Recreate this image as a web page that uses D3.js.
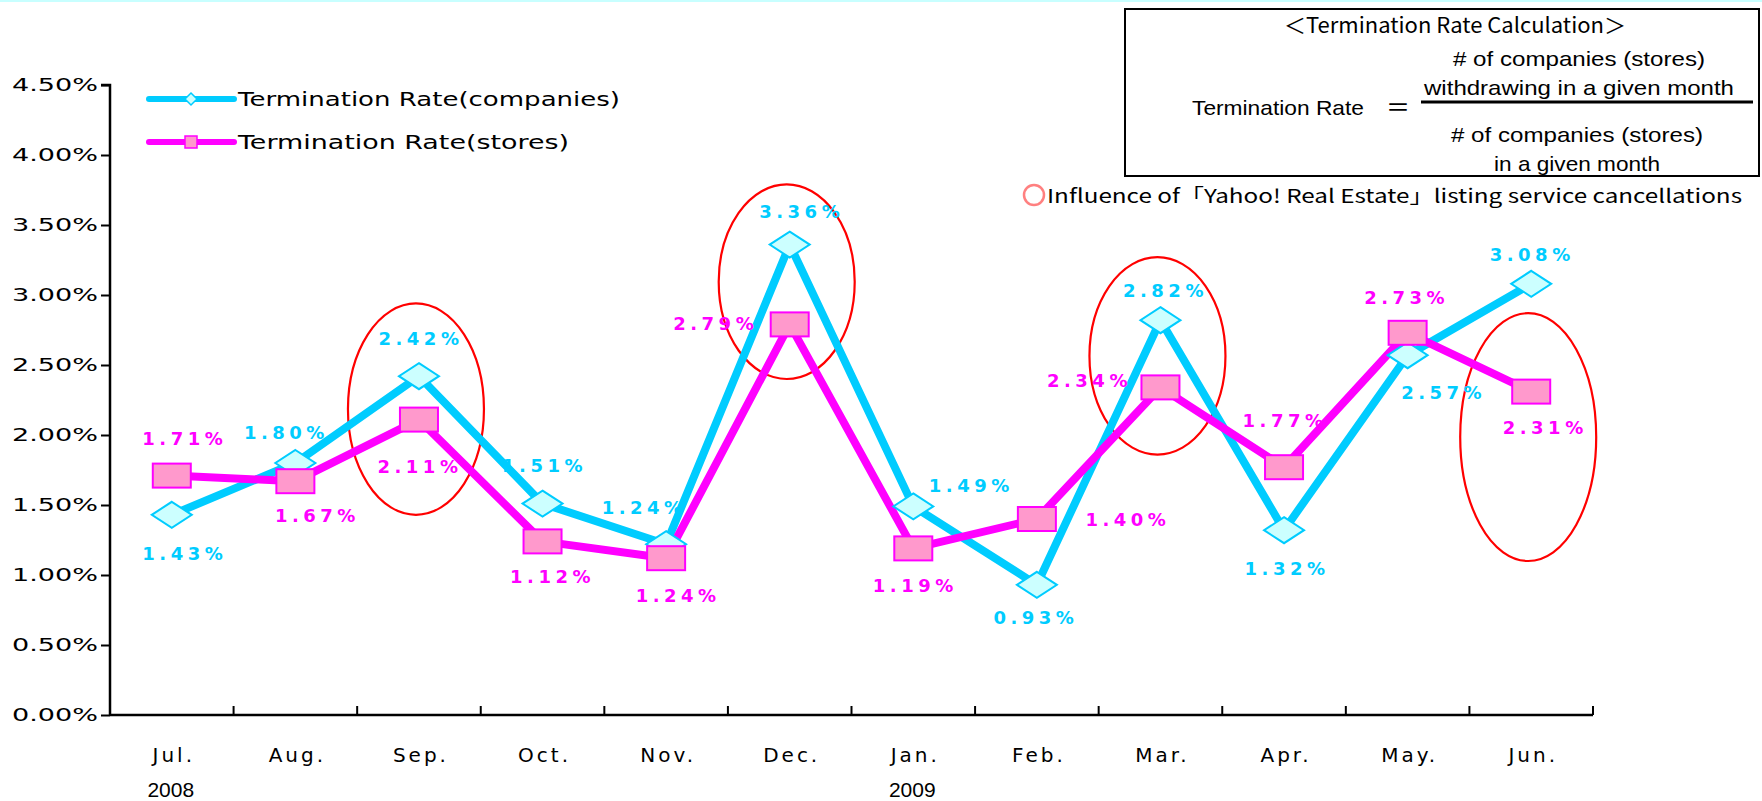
<!DOCTYPE html>
<html><head><meta charset="utf-8">
<script src="https://cdn.jsdelivr.net/npm/d3@7"></script>
<style>
html,body{margin:0;padding:0;background:#fff;}
svg{display:block;}
</style></head>
<body>
<svg id="c" width="1762" height="801"></svg>
<script>
const months = ["Jul.","Aug.","Sep.","Oct.","Nov.","Dec.","Jan.","Feb.","Mar.","Apr.","May.","Jun."];
const companies = [1.43,1.80,2.42,1.51,1.22,3.36,1.49,0.93,2.82,1.32,2.57,3.08];
const stores = [1.71,1.67,2.11,1.24,1.12,2.79,1.19,1.40,2.34,1.77,2.73,2.31];
const companyLabels = ["1.43%","1.80%","2.42%","1.51%","1.24%","3.36%","1.49%","0.93%","2.82%","1.32%","2.57%","3.08%"];
const storeLabels = ["1.71%","1.67%","2.11%","1.12%","1.24%","2.79%","1.19%","1.40%","2.34%","1.77%","2.73%","2.31%"];
const yTicks = [0,0.5,1,1.5,2,2.5,3,3.5,4,4.5];
const years = [{label:"2008", month:0},{label:"2009", month:6}];
// highlighted months (Yahoo! Real Estate influence): month index, value span
const highlights = [{m:2, top:2.94, bottom:1.43},{m:5, top:3.79, bottom:2.40},{m:8, top:3.27, bottom:1.86},{m:11, top:2.87, bottom:1.10}];

// layout (label offsets in px)
const compOff = [[11,39],[-11,-30],[0,-38],[0,-38],[-24,-37],[10,-33],[56,-21],[-3,33],[3,-30],[1,38],[34,37],[-1,-29]];
const storeOff = [[11,-37],[20,34],[-1,47],[8,35],[10,37],[-76,-1],[0,37],[89,1],[-73,-7],[-1,-47],[-3,-35],[12,36]];

const CYAN = "#00ccff", CYAN_FILL = "#ccffff", MAG = "#ff00ff", MAG_FILL = "#ff99cc";
const svg = d3.select("#c");
const L = 110, R = 1593, T = 85, B = 715;

svg.append("rect").attr("x",0).attr("y",0).attr("width",1762).attr("height",2).attr("fill","#c8ffff");

const x = d3.scaleBand().domain(months).range([L,R]).paddingInner(0).paddingOuter(0);
const y = d3.scaleLinear().domain([0,4.5]).range([B,T]);

const tickFont = "'DejaVu Sans', sans-serif";

// Y axis
const yAxis = d3.axisLeft(y).tickValues(yTicks).tickSize(9).tickFormat(d => d.toFixed(2)+"%");
const gy = svg.append("g").attr("transform",`translate(${L},0)`).call(yAxis);
gy.select(".domain").attr("stroke","#000").attr("stroke-width",2.5).attr("d",`M-9,${T}H0V${B}`);
gy.selectAll(".tick line").attr("stroke","#000").attr("stroke-width",2);
gy.selectAll(".tick text").attr("x",-12).attr("font-family",tickFont).attr("font-size",18)
  .attr("textLength",86).attr("lengthAdjust","spacingAndGlyphs").attr("fill","#000");

// X axis
const gx = svg.append("g").attr("transform",`translate(0,${B})`);
gx.append("line").attr("x1",L).attr("x2",R).attr("y1",0).attr("y2",0).attr("stroke","#000").attr("stroke-width",2.5);
gx.selectAll("line.tk").data(months).enter().append("line").attr("class","tk")
  .attr("x1",d=>x(d)+x.bandwidth()).attr("x2",d=>x(d)+x.bandwidth()).attr("y1",0).attr("y2",-9)
  .attr("stroke","#000").attr("stroke-width",2);
gx.selectAll("text.m").data(months).enter().append("text").attr("class","m")
  .attr("x",d=>x(d)+x.bandwidth()/2+2).attr("y",47).attr("text-anchor","middle")
  .attr("font-family",tickFont).attr("font-size",20).attr("letter-spacing","3px").text(d=>d);
svg.selectAll("text.yr").data(years).enter().append("text").attr("class","yr")
  .attr("x",d=>x(months[d.month])+x.bandwidth()/2 - 1).attr("y",797).attr("text-anchor","middle")
  .attr("font-family","'Liberation Sans Narrow','Liberation Sans',sans-serif").attr("font-size",21).text(d=>d.label);

// highlight ellipses (behind lines)
svg.selectAll("ellipse.hl").data(highlights).enter().append("ellipse").attr("class","hl")
  .attr("cx",d=>x(months[d.m])+x.bandwidth()/2 - 3)
  .attr("cy",d=>(y(d.top)+y(d.bottom))/2)
  .attr("rx",68).attr("ry",d=>(y(d.bottom)-y(d.top))/2)
  .attr("fill","none").attr("stroke","#ff0000").attr("stroke-width",2.2);

const cx = i => x(months[i]) + x.bandwidth()/2;
const line = d3.line().x((d,i)=>cx(i)).y(d=>y(d));

svg.append("path").datum(companies).attr("d",line).attr("fill","none").attr("stroke",CYAN).attr("stroke-width",8).attr("stroke-linejoin","round");
svg.append("path").datum(stores).attr("d",line).attr("fill","none").attr("stroke",MAG).attr("stroke-width",8).attr("stroke-linejoin","round");

const diamond = (w,h) => `M0,${-h/2}L${w/2},0L0,${h/2}L${-w/2},0Z`;
svg.selectAll("path.dia").data(companies).enter().append("path").attr("class","dia")
  .attr("transform",(d,i)=>`translate(${cx(i)},${y(d)})`).attr("d",diamond(40,26))
  .attr("fill",CYAN_FILL).attr("stroke",CYAN).attr("stroke-width",2);
svg.selectAll("rect.sq").data(stores).enter().append("rect").attr("class","sq")
  .attr("x",(d,i)=>cx(i)-19).attr("y",d=>y(d)-12).attr("width",38).attr("height",24)
  .attr("fill",MAG_FILL).attr("stroke",MAG).attr("stroke-width",2);

const lblFont = "'DejaVu Sans', sans-serif";
svg.selectAll("text.cl").data(companies).enter().append("text").attr("class","cl")
  .attr("x",(d,i)=>cx(i)+compOff[i][0]+2).attr("y",(d,i)=>y(d)+compOff[i][1]).attr("dy","0.36em")
  .attr("text-anchor","middle").attr("font-family",lblFont).attr("font-weight","bold").attr("font-size",18)
  .attr("letter-spacing","4.5px").attr("fill",CYAN).text((d,i)=>companyLabels[i]);
svg.selectAll("text.sl").data(stores).enter().append("text").attr("class","sl")
  .attr("x",(d,i)=>cx(i)+storeOff[i][0]+2).attr("y",(d,i)=>y(d)+storeOff[i][1]).attr("dy","0.36em")
  .attr("text-anchor","middle").attr("font-family",lblFont).attr("font-weight","bold").attr("font-size",18)
  .attr("letter-spacing","4.5px").attr("fill",MAG).text((d,i)=>storeLabels[i]);

// legend
const legend = [{name:"Termination Rate(companies)", c:CYAN, f:CYAN_FILL, shape:"d", y:99, len:382},
                {name:"Termination Rate(stores)", c:MAG, f:MAG_FILL, shape:"s", y:142, len:331}];
const lg = svg.selectAll("g.lg").data(legend).enter().append("g").attr("class","lg");
lg.append("line").attr("x1",149).attr("x2",234).attr("y1",d=>d.y).attr("y2",d=>d.y).attr("stroke",d=>d.c).attr("stroke-width",6).attr("stroke-linecap","round");
lg.each(function(d){
  const g = d3.select(this);
  if(d.shape==="d") g.append("path").attr("transform",`translate(191,${d.y})`).attr("d",diamond(12,12)).attr("fill",d.f).attr("stroke",d.c).attr("stroke-width",1.5);
  else g.append("rect").attr("x",185).attr("y",d.y-6).attr("width",12).attr("height",12).attr("fill",d.f).attr("stroke",d.c).attr("stroke-width",1.5);
});
lg.append("text").attr("x",238).attr("y",d=>d.y).attr("dy","0.36em").attr("font-family",tickFont).attr("font-size",19)
  .attr("textLength",d=>d.len).attr("lengthAdjust","spacingAndGlyphs").text(d=>d.name);

// formula box
const narrow = "'Liberation Sans Narrow','Liberation Sans','Noto Sans CJK JP',sans-serif";
svg.append("rect").attr("x",1125).attr("y",9).attr("width",634).attr("height",167).attr("fill","#fff").attr("stroke","#000").attr("stroke-width",2);
const boxTexts = [
  {t:"＜Termination Rate Calculation＞", x:1455, y:25, len:342, fs:21},
  {t:"# of companies (stores)", x:1579, y:58, len:252, fs:21},
  {t:"withdrawing in a given month", x:1579, y:87, len:310, fs:21},
  {t:"Termination Rate", x:1278, y:107, len:172, fs:21},
  {t:"＝", x:1398, y:107, len:null, fs:24},
  {t:"# of companies (stores)", x:1577, y:134, len:252, fs:21},
  {t:"in a given month", x:1577, y:163, len:166, fs:21}
];
svg.selectAll("text.bx").data(boxTexts).enter().append("text").attr("class","bx")
  .attr("x",d=>d.x).attr("y",d=>d.y).attr("dy","0.36em").attr("text-anchor","middle")
  .attr("font-family",d=>d.t==="＝"||d.t.startsWith("＜")?"'Noto Sans CJK JP',sans-serif":narrow).attr("font-size",d=>d.fs)
  .each(function(d){ if(d.len) d3.select(this).attr("textLength",d.len).attr("lengthAdjust","spacingAndGlyphs"); })
  .text(d=>d.t);
svg.append("line").attr("x1",1421).attr("x2",1753).attr("y1",102).attr("y2",102).attr("stroke","#000").attr("stroke-width",3);

// influence note
svg.append("circle").attr("cx",1034).attr("cy",195).attr("r",10).attr("fill","none").attr("stroke","#ff8080").attr("stroke-width",2.5);
svg.append("text").attr("x",1047).attr("y",196).attr("dy","0.36em").attr("font-family","'Noto Sans CJK JP','Noto Sans',sans-serif")
  .attr("font-size",19).attr("textLength",695).attr("lengthAdjust","spacingAndGlyphs")
  .text("Influence of「Yahoo! Real Estate」listing service cancellations");
</script>
</body></html>
